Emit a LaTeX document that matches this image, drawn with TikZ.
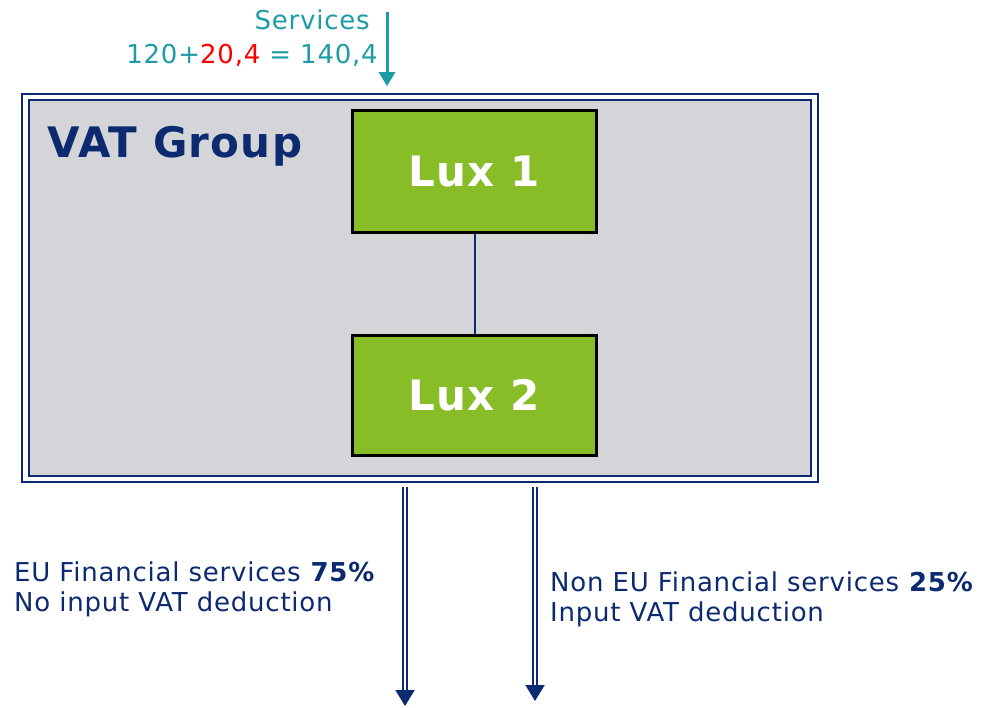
\documentclass[tikz,border=0pt]{standalone}
\usepackage{fontspec}
\setmainfont{DejaVu Sans}[LetterSpace=3]
\newfontfamily\headfont{DejaVu Sans}[LetterSpace=3]
\usepackage{xcolor}
\usetikzlibrary{arrows.meta,backgrounds,fit}
\definecolor{vatnavy}{HTML}{0B2A6F}
\definecolor{vatgrey}{HTML}{D4D5D8}
\definecolor{luxgreen}{HTML}{88BD28}
\definecolor{svcteal}{HTML}{1E9CA6}

\begin{document}
\begin{tikzpicture}[x=1pt,y=-1pt,>=Stealth]
\useasboundingbox (0,0) rectangle (995,707);
\node[rectangle,fill=vatgrey,draw=vatnavy,line width=2.2pt,minimum width=782pt,minimum height=376pt,inner sep=0pt] (group) at (420,288) {};
\node[rectangle,fill=luxgreen,draw=black,line width=3pt,minimum width=244pt,minimum height=122pt,text=white,font=\headfont\bfseries\fontsize{42}{48}\selectfont] (lux1) at (474.5,171.5) {Lux 1};
\node[rectangle,fill=luxgreen,draw=black,line width=3pt,minimum width=244pt,minimum height=120pt,text=white,font=\headfont\bfseries\fontsize{42}{48}\selectfont] (lux2) at (474.5,395.5) {Lux 2};
\node[anchor=base west,text=vatnavy,font=\headfont\bfseries\fontsize{42}{48}\selectfont,inner sep=0pt] (vatgroup) at (47,157) {VAT Group};
\begin{scope}[on background layer]
\node[fit=(group),inner xsep=6pt,inner ysep=5pt,draw=vatnavy,line width=1.4pt,fill=white] (groupframe) {};
\end{scope}
\draw[vatnavy,line width=2pt] (lux1) -- (lux2);
% incoming services
\node[anchor=base east,text=svcteal,font=\fontsize{26}{30}\selectfont,inner sep=0pt] (svclabel) at (370,29) {Services};
\node[anchor=base east,text=svcteal,font=\fontsize{26}{30}\selectfont,inner sep=0pt] (svcsum) at (378,63) {120+\textcolor{red}{20,4} = 140,4};
\coordinate (svc) at (387,12);
\draw[->,svcteal,line width=3pt,-{Triangle[width=16pt,length=14pt]}] (svc) -- ([yshift=7pt]groupframe.north -| svc);
% outgoing services
\coordinate (euend) at (405,706);
\coordinate (nonend) at (535,701);
\draw[vatnavy,line width=2pt,double=white,double distance=2.4pt,-{Triangle[width=19pt,length=16pt]}] ([yshift=-4pt]groupframe.south -| euend) -- (euend);
\draw[vatnavy,line width=2pt,double=white,double distance=2.4pt,-{Triangle[width=19pt,length=16pt]}] ([yshift=-4pt]groupframe.south -| nonend) -- (nonend);
\node[anchor=base west,align=left,text=vatnavy,font=\fontsize{26}{30}\selectfont,inner sep=0pt] (eutext) at (14,611) {EU Financial services \textbf{75\%}\\No input VAT deduction};
\node[anchor=base west,align=left,text=vatnavy,font=\fontsize{26}{30}\selectfont,inner sep=0pt] (nontext) at (550,621) {Non EU Financial services \textbf{25\%}\\Input VAT deduction};
\end{tikzpicture}
\end{document}
